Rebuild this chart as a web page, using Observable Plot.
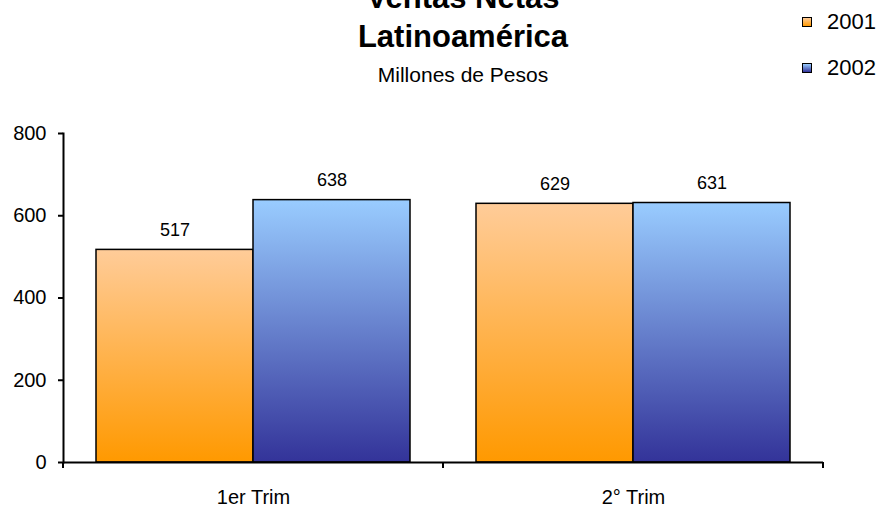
<!DOCTYPE html>
<html><head><meta charset="utf-8">
<script src="https://cdn.jsdelivr.net/npm/d3@7"></script>
<script src="https://cdn.jsdelivr.net/npm/@observablehq/plot@0.6"></script>
<style>
body{margin:0;background:#fff;font-family:"Liberation Sans",Arial,sans-serif;}
#wrap{position:relative;width:884px;height:506px;overflow:hidden;}
.t{position:absolute;left:0;width:926px;text-align:center;color:#000;white-space:nowrap;}
#title{top:-22px;font-weight:bold;font-size:31px;line-height:39px;}
#sub{top:62px;font-size:21px;line-height:26px;}
#legend{position:absolute;left:802px;top:0;width:82px;height:90px;font-size:22px;line-height:26px;}
.sw{position:absolute;left:0;width:8px;height:8px;border:1.5px solid #000;}
.lab{position:absolute;left:25px;white-space:nowrap;}
#chart{position:absolute;left:0;top:110px;}
</style>
</head><body>
<svg width="0" height="0" style="position:absolute">
  <defs id="defs"></defs>
</svg>
<div id="wrap">
  <div class="t" id="title">Ventas Netas<br>Latinoamérica</div>
  <div class="t" id="sub">Millones de Pesos</div>
  <div id="legend"></div>
  <div id="chart"></div>
</div>
<script>
const categories = ["1er Trim", "2° Trim"];
const years = ["2001", "2002"];
const values2001 = [517, 629];
const values2002 = [638, 631];
const yTicks = [0, 200, 400, 600, 800];
const gradientStops = {"2001": ["#FFCC99", "#FF9900"], "2002": ["#99CCFF", "#333399"]};

const rows = [];
categories.forEach((c, i) => {
  rows.push({trim: c, year: "2001", value: values2001[i]});
  rows.push({trim: c, year: "2002", value: values2002[i]});
});

// gradients
const defs = d3.select("#defs");
years.forEach(yr => {
  const g = defs.append("linearGradient").attr("id", "g" + yr)
    .attr("x1", 0).attr("y1", 0).attr("x2", 0).attr("y2", 1);
  g.append("stop").attr("offset", "0%").attr("stop-color", gradientStops[yr][0]);
  g.append("stop").attr("offset", "100%").attr("stop-color", gradientStops[yr][1]);
});

// legend
const legendTops = [17, 63];
const legend = d3.select("#legend");
years.forEach((yr, i) => {
  legend.append("div").attr("class", "sw")
    .style("top", legendTops[i] + "px")
    .style("background", `linear-gradient(${gradientStops[yr][0]}, ${gradientStops[yr][1]})`);
  legend.append("div").attr("class", "lab")
    .style("top", (legendTops[i] - 8) + "px").text(yr);
});

const plot = Plot.plot({
  width: 884, height: 396,
  marginTop: 23, marginBottom: 44, marginLeft: 62, marginRight: 61,
  style: {fontFamily: '"Liberation Sans", Arial, sans-serif', color: "#000", background: "transparent", overflow: "visible"},
  fx: {domain: categories, padding: 0, label: null},
  x: {domain: years, paddingInner: 0, paddingOuter: 0.204, axis: null},
  y: {domain: [0, 800], label: null},
  color: {domain: years, range: years.map(y => `url(#g${y})`)},
  marks: [
    Plot.barY(rows, {fx: "trim", x: "year", y: "value", fill: "year", stroke: "#000", strokeWidth: 1.5}),
    Plot.text(rows, {fx: "trim", x: "year", y: "value", text: "value", dy: -14, lineAnchor: "bottom", fontSize: 18, fill: "#000"}),
    Plot.ruleY([0], {stroke: "#000", strokeWidth: 2}),
    Plot.frame({anchor: "left", facetAnchor: "left", stroke: "#000", strokeWidth: 2}),
    Plot.axisY({ticks: yTicks, tickSize: 5, tickPadding: 12, fontSize: 20, label: null, strokeWidth: 2}),
    Plot.axisFx({anchor: "bottom", tickSize: 0, tickPadding: 27, fontSize: 20, label: null})
  ]
});
document.getElementById("chart").appendChild(plot);

// category boundary ticks on the x axis (from the library's scales)
const svgEl = plot.tagName.toLowerCase() === "svg" ? plot : plot.querySelector("svg");
const fx = plot.scale("fx");
const ys = plot.scale("y");
const y0 = ys.apply(0);
const bounds = categories.map(c => fx.apply(c));
bounds.push(fx.apply(categories[categories.length - 1]) + fx.bandwidth);
d3.select(svgEl).append("g").selectAll("line").data(bounds).join("line")
  .attr("x1", d => d).attr("x2", d => d)
  .attr("y1", y0).attr("y2", y0 + 6)
  .attr("stroke", "#000").attr("stroke-width", 2);
</script>
</body></html>
